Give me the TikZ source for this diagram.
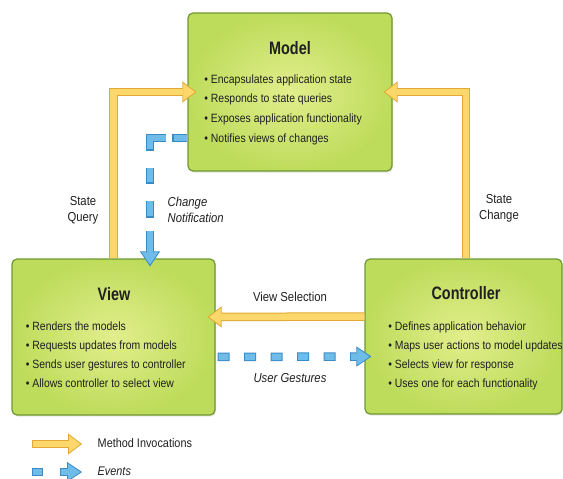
\documentclass[tikz,border=0pt]{standalone}
\usepackage{fontspec}
\setmainfont{Liberation Sans}[FakeStretch=0.87]
\newfontfamily\titlefont{Liberation Sans}[FakeStretch=0.8]
\usetikzlibrary{arrows.meta,shadows}

\definecolor{boxin}{RGB}{226,238,140}
\definecolor{boxout}{RGB}{190,220,92}
\definecolor{boxline}{RGB}{112,152,48}
\definecolor{yfill}{RGB}{252,216,108}
\definecolor{ybord}{RGB}{226,168,50}
\definecolor{bfill}{RGB}{112,188,232}
\definecolor{bbord}{RGB}{58,138,198}
\definecolor{txt}{RGB}{32,32,32}

\tikzset{every picture/.style={line width=0.75pt}}

\begin{document}
\begin{tikzpicture}[x=1pt,y=1pt,yscale=-1,xscale=1,
  box/.style={draw=boxline, line width=1.2pt, rounded corners=5pt, inner color=boxin, outer color=boxout, inner sep=0pt,
    drop shadow={opacity=0.2, shadow xshift=1pt, shadow yshift=-1.5pt}},
  boxtitle/.style={font=\titlefont\bfseries\fontsize{18}{18}\selectfont, text=txt},
  item/.style={font=\fontsize{12}{14}\selectfont, text=txt, anchor=base west, inner sep=0pt},
  lbl/.style={font=\fontsize{13}{16}\selectfont, text=txt, align=center},
  methodout/.style={draw=ybord, line width=8.5pt, line join=miter, -{Triangle[width=21pt,length=14pt,line width=0.8pt,fill=yfill]}},
  methodin/.style={draw=yfill, line width=6.5pt, shorten >=13pt},
  eventout/.style={draw=bbord, line width=8.5pt, line join=miter, -{Triangle[width=20pt,length=15pt,line width=0.8pt,fill=bfill]}},
  eventin/.style={draw=bfill, line width=6.5pt, line join=miter, shorten >=14pt}]

\useasboundingbox (0,0) rectangle (563,479);

%Boxes
\node[box, minimum width=204pt, minimum height=158pt] (model) at (290,92) {};
\node[box, minimum width=203pt, minimum height=156pt] (view) at (113.5,337) {};
\node[box, minimum width=197pt, minimum height=155pt] (ctrl) at (463.5,336.5) {};

%Titles
\node[boxtitle] (model-title) at (290,48.5) {Model};
\node[boxtitle] (view-title) at (114,294) {View};
\node[boxtitle] (ctrl-title) at (466,293) {Controller};

%Bullet lines
\foreach \txt [count=\i] in {Encapsulates application state, Responds to state queries, Exposes application functionality, Notifies views of changes}
  \node[item] (model-item\i) at (204,63.3+19.7*\i) {\textbullet\ \txt};
\foreach \txt [count=\i] in {Renders the models, Requests updates from models, Sends user gestures to controller, Allows controller to select view}
  \node[item] (view-item\i) at (25.5,311+19*\i) {\textbullet\ \txt};
\foreach \txt [count=\i] in {Defines application behavior, Maps user actions to model updates, Selects view for response, Uses one for each functionality}
  \node[item] (ctrl-item\i) at (388,311+19*\i) {\textbullet\ \txt};

%State Query
\draw[methodout] (view.north) |- ([xshift=9pt]model.west);
\draw[methodin] (view.north) |- ([xshift=9pt]model.west);
%State Change
\draw[methodout] ([xshift=2.5pt]ctrl.north) |- ([xshift=-9pt]model.east);
\draw[methodin] ([xshift=2.5pt]ctrl.north) |- ([xshift=-9pt]model.east);
%View Selection
\draw[methodout] ([yshift=-20pt]ctrl.west) -- ([yshift=-20pt,xshift=-8pt]view.east);
\draw[methodin] ([yshift=-20pt]ctrl.west) -- ([yshift=-20pt,xshift=-8pt]view.east);
%User Gestures
\draw[eventout, dash pattern=on 12pt off 14.5pt, dash phase=24.5pt] ([yshift=20pt]view.east) -- ([yshift=20pt,xshift=7pt]ctrl.west);
\draw[eventin, dash pattern=on 10pt off 16.5pt, dash phase=23.5pt] ([yshift=20pt]view.east) -- ([yshift=20pt,xshift=7pt]ctrl.west);
%Change Notification
\draw[eventout, dash pattern=on 15pt off 6pt on 29pt off 17pt on 16pt off 17pt on 17pt off 13pt on 40pt off 10pt]
  ([yshift=46pt]model.west) -| ([xshift=36.5pt,yshift=8pt]view.north);
\draw[eventin, dash pattern=on 13pt off 8pt on 27pt off 19pt on 14pt off 19pt on 15pt off 15pt on 38pt off 12pt, dash phase=180pt]
  ([yshift=46pt]model.west) -| ([xshift=36.5pt,yshift=8pt]view.north);

%Labels
\node[lbl] (query-lbl) at (83,210) {State\\Query};
\node[lbl, align=left, anchor=west, font=\fontsize{13}{16}\selectfont\itshape] (notify-lbl) at (164,210) {Change\\Notification};
\node[lbl] (change-lbl) at (499,208) {State\\Change};
\node[lbl] (select-lbl) at (290,297) {View Selection};
\node[lbl, font=\fontsize{13}{16}\selectfont\itshape] (gesture-lbl) at (290,378) {User Gestures};

%Legend
\coordinate (method-a) at (32,444);
\coordinate (method-b) at (82,444);
\draw[methodout] (method-a) -- (method-b);
\draw[methodin, shorten <=1pt] (method-a) -- (method-b);
\node[lbl, anchor=west, font=\fontsize{12.5}{15}\selectfont] (method-text) at (94,443) {Method Invocations};
\coordinate (event-a) at (32,472);
\coordinate (event-b) at (82,472);
\draw[eventout, dash pattern=on 11pt off 17pt] (event-a) -- (event-b);
\draw[eventin, dash pattern=on 9pt off 19pt, dash phase=27pt] (event-a) -- (event-b);
\node[lbl, anchor=west, font=\fontsize{12.5}{15}\selectfont\itshape] (event-text) at (94,471) {Events};

\end{tikzpicture}
\end{document}
